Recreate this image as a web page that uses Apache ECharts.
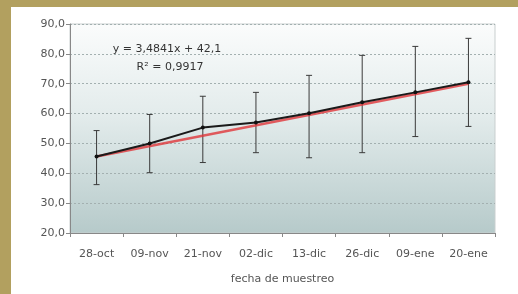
<!DOCTYPE html>
<html><head><meta charset="utf-8">
<script src="https://cdn.jsdelivr.net/npm/echarts@6/dist/echarts.min.js"></script>
<style>html,body{margin:0;padding:0;background:#fff}#c{width:518px;height:294px}</style>
</head><body><div id="c"></div>
<script>
const categories = ['28-oct','09-nov','21-nov','02-dic','13-dic','26-dic','09-ene','20-ene'];
const means = [45.6, 50.0, 55.3, 57.0, 60.1, 63.8, 67.1, 70.5];
const lows  = [36.2, 40.2, 43.6, 46.9, 45.2, 46.9, 52.3, 55.7];
const highs = [54.3, 59.7, 65.8, 67.1, 72.8, 79.5, 82.5, 85.2];
const trendEnds = [45.6, 70.0];
const yTicks = {min: 20, max: 90, interval: 10};
const eqLines = ['y = 3,4841x + 42,1', 'R² = 0,9917'];
const xTitle = 'fecha de muestreo';

const chart = echarts.init(document.getElementById('c'), null, {renderer: 'canvas'});
const font = 'DejaVu Sans';
const errData = categories.map((c, i) => [i, lows[i], highs[i]]);
chart.setOption({
  animation: false,
  backgroundColor: '#fff',
  grid: {
    left: 70, right: 23, top: 24, bottom: 61, show: true,
    borderColor: '#c9cfcf', borderWidth: 1,
    backgroundColor: {type: 'linear', x: 0, y: 0, x2: 0, y2: 1,
      colorStops: [{offset: 0, color: '#fbfcfc'}, {offset: 0.45, color: '#e2ebeb'}, {offset: 1, color: '#b6caca'}]}
  },
  xAxis: {
    type: 'category', data: categories, boundaryGap: true,
    axisLine: {lineStyle: {color: '#888', width: 1}},
    axisTick: {show: true, length: 4, lineStyle: {color: '#888'}},
    axisLabel: {color: '#555', fontFamily: font, fontSize: 11, margin: 16, interval: 0},
    name: xTitle, nameLocation: 'middle', nameGap: 41,
    nameTextStyle: {color: '#555', fontFamily: font, fontSize: 11}
  },
  yAxis: {
    type: 'value', min: yTicks.min, max: yTicks.max, interval: yTicks.interval,
    axisLine: {show: true, lineStyle: {color: '#888'}},
    axisTick: {show: true, length: 4, lineStyle: {color: '#888'}},
    axisLabel: {color: '#555', fontFamily: font, fontSize: 11, margin: 5,
      formatter: v => v.toFixed(1).replace('.', ',')},
    splitLine: {show: true, lineStyle: {color: '#a3b0b0', type: [2, 2], width: 1}}
  },
  graphic: [
    {type: 'rect', shape: {x: 0, y: 0, width: 11, height: 294}, style: {fill: '#b2a05f'}, z: 100},
    {type: 'rect', shape: {x: 0, y: 0, width: 518, height: 7}, style: {fill: '#b2a05f'}, z: 100},
    {type: 'text', x: 167, y: 49, style: {text: eqLines[0], fill: '#333', font: '11px "DejaVu Sans"', textAlign: 'center', textVerticalAlign: 'middle'}, z: 50},
    {type: 'text', x: 170, y: 67, style: {text: eqLines[1], fill: '#333', font: '11px "DejaVu Sans"', textAlign: 'center', textVerticalAlign: 'middle'}, z: 50}
  ],
  series: [
    {
      type: 'custom', z: 3,
      data: errData,
      encode: {x: 0, y: [1, 2]},
      renderItem: function (params, api) {
        const x = api.value(0);
        const lo = api.coord([x, api.value(1)]);
        const hi = api.coord([x, api.value(2)]);
        const w = 3;
        const st = {stroke: '#3a3a3a', lineWidth: 1};
        return {type: 'group', children: [
          {type: 'line', shape: {x1: lo[0], y1: lo[1], x2: hi[0], y2: hi[1]}, style: st},
          {type: 'line', shape: {x1: lo[0]-w, y1: lo[1], x2: lo[0]+w, y2: lo[1]}, style: st},
          {type: 'line', shape: {x1: hi[0]-w, y1: hi[1], x2: hi[0]+w, y2: hi[1]}, style: st}
        ]};
      }
    },
    {
      type: 'line', data: means, z: 5,
      symbol: 'circle', symbolSize: 4,
      itemStyle: {color: '#111'},
      lineStyle: {color: '#1a1a1a', width: 2},
      markLine: {
        silent: true, symbol: 'none', z: 4,
        lineStyle: {color: '#e0363a', width: 2.5, type: 'solid', opacity: 0.8},
        label: {show: false},
        data: [[{coord: [0, trendEnds[0]]}, {coord: [categories.length - 1, trendEnds[1]]}]]
      }
    }
  ]
});
</script></body></html>
